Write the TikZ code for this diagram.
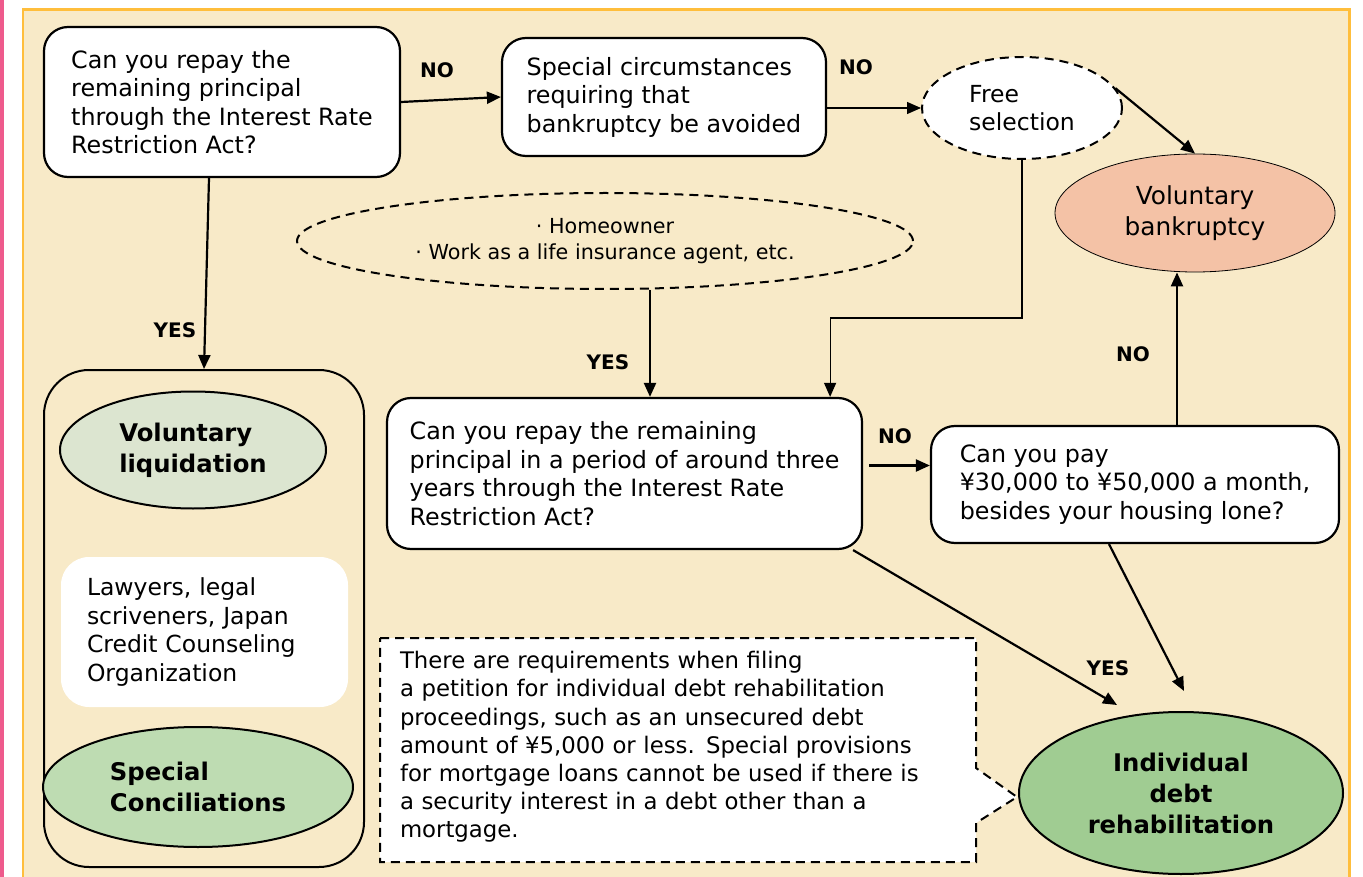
\documentclass[tikz,border=0pt]{standalone}
\usepackage{fontspec}
\setmainfont{DejaVu Sans}
\usetikzlibrary{shapes.geometric,arrows.meta,calc}
\definecolor{bgc}{RGB}{248,234,200}
\definecolor{framec}{RGB}{255,190,60}
\definecolor{pinkc}{RGB}{238,90,140}
\definecolor{salmonc}{RGB}{244,194,166}
\definecolor{palegreen}{RGB}{220,229,208}
\definecolor{midgreen}{RGB}{190,220,178}
\definecolor{deepgreen}{RGB}{160,204,146}
\tikzset{
  qbox/.style={draw, line width=2.2pt, rounded corners=24pt, fill=white, align=left, inner sep=0pt,
    font=\fontsize{23.8}{28.5}\selectfont},
  arr/.style={line width=2.2pt, -{Triangle[length=14pt,width=12pt]}},
  thinarr/.style={line width=1.2pt, -{Triangle[length=14pt,width=12pt]}},
  lbl/.style={font=\bfseries\fontsize{20}{20}\selectfont, inner sep=0pt},
  boldell/.style={ellipse, draw, line width=2pt, inner sep=0pt, font=\bfseries\fontsize{24.3}{31}\selectfont}
}
\begin{document}
\begin{tikzpicture}[x=1pt,y=-1pt]
\useasboundingbox (0,0) rectangle (1363,877);
\fill[white] (0,0) rectangle (1363,877);
\fill[pinkc] (0,0) rectangle (3.5,877);
\fill[bgc] (24,10) rectangle (1350,880);
\draw[framec, line width=1.5pt] (23,880) -- (23,10);
\draw[framec, line width=3pt] (22,10) -- (1349.5,10) -- (1349.5,880);

% top row
\node[qbox, minimum width=356pt, minimum height=150pt] (q1) at (222,102)
  {Can you repay the\\remaining principal\\through the Interest Rate\\Restriction Act?};
\node[qbox, minimum width=324pt, minimum height=118pt] (sc) at (664,97)
  {Special circumstances\\requiring that\\bankruptcy be avoided};
\node[ellipse, draw, dashed, dash pattern=on 9pt off 6pt, line width=2pt, fill=white, minimum width=200pt, minimum height=102pt, inner sep=0pt, align=left, font=\fontsize{23.5}{28.5}\selectfont] (fs) at (1022,108) {Free\\selection};
\node[ellipse, draw, line width=0.8pt, fill=salmonc, minimum width=280pt, minimum height=118pt, inner sep=0pt, align=center, font=\fontsize{24.8}{31}\selectfont] (vb) at (1195,213) {Voluntary\\bankruptcy};

\node[ellipse, draw, dashed, dash pattern=on 9pt off 6pt, line width=2pt, minimum width=616pt, minimum height=96pt, inner sep=0pt, align=center, font=\fontsize{20.7}{26}\selectfont] (ho) at (605,241)
  {· Homeowner\\· Work as a life insurance agent, etc.};

% middle row
\node[qbox, minimum width=475pt, minimum height=151pt] (q2) at (624.5,473.5)
  {Can you repay the remaining\\principal in a period of around three\\years through the Interest Rate\\Restriction Act?};
\node[qbox, minimum width=408pt, minimum height=117pt] (q3) at (1135,484.5)
  {Can you pay\\¥30,000 to ¥50,000 a month,\\besides your housing lone?};

% left group
\node[draw, line width=2pt, rounded corners=45pt, minimum width=320pt, minimum height=497pt, inner sep=0pt] (grp) at (204,618.5) {};
\node[boldell, fill=palegreen, minimum width=266pt, minimum height=117pt, align=left] (vl) at (193,450) {Voluntary\\liquidation};
\node[fill=white, rounded corners=28pt, minimum width=287pt, minimum height=150pt, inner xsep=26pt, inner ysep=0pt, text width=235pt, align=left, font=\fontsize{23.5}{28.5}\selectfont] (law) at (204.5,632)
  {Lawyers, legal\\scriveners, Japan\\Credit Counseling\\Organization};
\node[boldell, fill=midgreen, minimum width=310pt, minimum height=120pt, align=left] (scn) at (198,787) {Special\\Conciliations};

% callout
\draw[line width=2pt, dashed, dash pattern=on 9pt off 6pt, fill=white]
  (380,638) -- (976,638) -- (976,768) -- (1017,797) -- (976,823) -- (976,862) -- (380,862) -- cycle;
\node[inner sep=0pt, text width=560pt, align=left, font=\fontsize{22.8}{28.2}\selectfont] (note) at (680,747)
  {There are requirements when filing\\a petition for individual debt rehabilitation\\proceedings, such as an unsecured debt\\amount of ¥5,000 or less. Special provisions\\for mortgage loans cannot be used if there is\\a security interest in a debt other than a\\mortgage.};

\node[boldell, fill=deepgreen, minimum width=324pt, minimum height=162pt, align=center] (idr) at (1181,793) {Individual\\debt\\rehabilitation};

% connectors
\draw[arr] (q1.east) -- (sc.west);
\node[lbl] (no1) at (437,70) {NO};
\draw[thinarr] (sc.east |- fs.west) -- (fs.west);
\node[lbl] (no2) at (856,67) {NO};
\draw[arr] (fs.12) -- (vb.north);
\draw[thinarr] (fs.south) -- (fs.south |- 0,318) -| ([xshift=-33pt]q2.north east);

\draw[arr] ([xshift=-13pt]q1.south) -- (grp.north);
\node[lbl] (yes1) at (175,330) {YES};

\draw[arr] ([xshift=45pt]ho.south) -- ([xshift=45pt]ho.south |- q2.north);
\node[lbl] (yes2) at (608,362) {YES};

\coordinate (a23) at ($(q2.east)+(6,-8)$);
\draw[arr] (a23) -- (a23 -| q3.west);
\node[lbl] (no3) at (895,436) {NO};

\draw[arr] ([xshift=42pt]q3.north) -- ([xshift=42pt]q3.north |- vb.south);
\node[lbl] (no4) at (1133,354) {NO};

\coordinate (t1) at (1117,705);
\coordinate (t2) at (1184,691);
\draw[arr] ([xshift=-10pt]q2.south east) -- (t1);
\draw[arr] ([xshift=-26pt]q3.south) -- (t2);
\node[lbl] (yes3) at (1108,668) {YES};
\end{tikzpicture}
\end{document}
